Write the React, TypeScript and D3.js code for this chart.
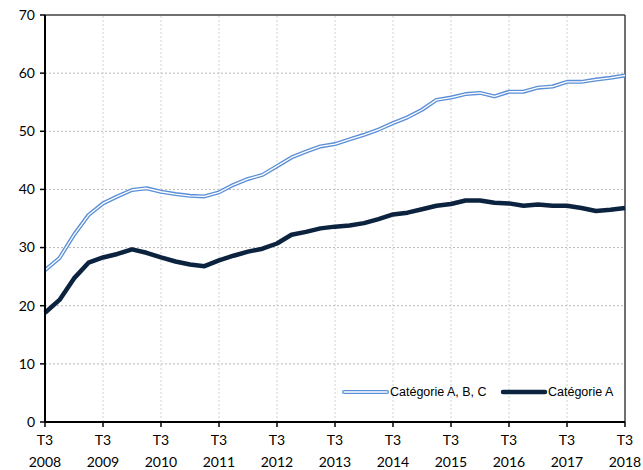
import React, { useEffect, useRef } from 'react';
import * as d3 from 'd3';

// quarterly, T3 2008 -> T3 2018
const yearLabels = ['2008', '2009', '2010', '2011', '2012', '2013', '2014', '2015', '2016', '2017', '2018'];
const yTicks = [0, 10, 20, 30, 40, 50, 60, 70];

const catABC = [
  26.1, 28.2, 32.2, 35.6, 37.6, 38.8, 39.9, 40.2, 39.6, 39.2,
  38.9, 38.8, 39.5, 40.8, 41.8, 42.5, 44.0, 45.5, 46.5, 47.4,
  47.8, 48.6, 49.4, 50.3, 51.4, 52.4, 53.7, 55.4, 55.8, 56.4,
  56.6, 56.0, 56.8, 56.8, 57.5, 57.7, 58.5, 58.5, 58.9, 59.2,
  59.6,
];
const catA = [
  18.8, 21.0, 24.7, 27.4, 28.3, 28.9, 29.7, 29.1, 28.3, 27.6,
  27.1, 26.8, 27.8, 28.6, 29.3, 29.8, 30.7, 32.2, 32.7, 33.3,
  33.6, 33.8, 34.2, 34.9, 35.7, 36.0, 36.6, 37.2, 37.5, 38.1,
  38.1, 37.7, 37.6, 37.2, 37.4, 37.2, 37.2, 36.8, 36.3, 36.5,
  36.8,
];

const W = 643;
const H = 470;
const M = { left: 45, right: 18, top: 15, bottom: 48 };

export default function App() {
  const ref = useRef<SVGSVGElement>(null);

  useEffect(() => {
    if (!ref.current) return;
    const svg = d3.select(ref.current);
    svg.selectAll('*').remove();

    const x = d3.scaleLinear().domain([0, catA.length - 1]).range([M.left, W - M.right]);
    const y = d3.scaleLinear().domain([0, 70]).range([H - M.bottom, M.top]);
    const axisFont = 'Lato, "Open Sans", sans-serif';

    // grid
    const grid = svg.append('g');
    yTicks.slice(1, -1).forEach(t => {
      grid.append('line')
        .attr('x1', x(0)).attr('x2', x(40))
        .attr('y1', y(t)).attr('y2', y(t))
        .attr('stroke', '#b8b8b8').attr('stroke-width', 1)
        .attr('stroke-dasharray', '2,2');
    });
    yearLabels.slice(1, -1).forEach((_, k) => {
      const xi = x((k + 1) * 4);
      grid.append('line')
        .attr('x1', xi).attr('x2', xi)
        .attr('y1', y(0)).attr('y2', y(70))
        .attr('stroke', '#d0d0d0').attr('stroke-width', 1)
        .attr('stroke-dasharray', '2,2');
    });

    // frame: top and right
    svg.append('line')
      .attr('x1', x(0)).attr('x2', x(40)).attr('y1', y(70)).attr('y2', y(70))
      .attr('stroke', '#404040').attr('stroke-width', 1.5);
    svg.append('line')
      .attr('x1', x(40)).attr('x2', x(40)).attr('y1', y(70)).attr('y2', y(0))
      .attr('stroke', '#404040').attr('stroke-width', 1.5);

    const line = d3.line<number>()
      .x((_, i) => x(i))
      .y(d => y(d));

    // Catégorie A, B, C : double line
    svg.append('path').datum(catABC)
      .attr('fill', 'none').attr('stroke', '#5b8fd8').attr('stroke-width', 4)
      .attr('stroke-linejoin', 'round').attr('d', line);
    svg.append('path').datum(catABC)
      .attr('fill', 'none').attr('stroke', '#fff').attr('stroke-width', 1.3)
      .attr('stroke-linejoin', 'round').attr('d', line);

    // Catégorie A
    svg.append('path').datum(catA)
      .attr('fill', 'none').attr('stroke', '#0c2340').attr('stroke-width', 4.5)
      .attr('stroke-linejoin', 'round').attr('d', line);

    // y axis
    svg.append('line')
      .attr('x1', x(0)).attr('x2', x(0)).attr('y1', y(70)).attr('y2', y(0))
      .attr('stroke', '#000').attr('stroke-width', 2);
    yTicks.forEach(t => {
      svg.append('line')
        .attr('x1', x(0) - 5).attr('x2', x(0)).attr('y1', y(t)).attr('y2', y(t))
        .attr('stroke', '#000').attr('stroke-width', 1.5);
      svg.append('text')
        .attr('x', x(0) - 10).attr('y', y(t)).attr('dy', '0.35em')
        .attr('text-anchor', 'end')
        .attr('font-family', axisFont).attr('font-size', 14).attr('fill', '#000')
        .text(t);
    });

    // x axis
    svg.append('line')
      .attr('x1', x(0)).attr('x2', x(40)).attr('y1', y(0)).attr('y2', y(0))
      .attr('stroke', '#000').attr('stroke-width', 2);
    yearLabels.forEach((yr, k) => {
      const xi = x(k * 4);
      svg.append('line')
        .attr('x1', xi).attr('x2', xi).attr('y1', y(0)).attr('y2', y(0) + 5)
        .attr('stroke', '#000').attr('stroke-width', 1.5);
      const t = svg.append('text')
        .attr('x', xi).attr('text-anchor', 'middle')
        .attr('font-family', axisFont).attr('font-size', 14).attr('fill', '#000');
      t.append('tspan').attr('x', xi).attr('y', y(0) + 23).text('T3');
      t.append('tspan').attr('x', xi).attr('y', y(0) + 45).text(yr);
    });

    // legend
    const lg = svg.append('g').attr('transform', `translate(344, ${y(0) - 30})`);
    lg.append('line').attr('x1', 0).attr('x2', 43)
      .attr('stroke', '#5b8fd8').attr('stroke-width', 4).attr('stroke-linecap', 'round');
    lg.append('line').attr('x1', 0).attr('x2', 43)
      .attr('stroke', '#fff').attr('stroke-width', 1.3).attr('stroke-linecap', 'round');
    lg.append('text').attr('x', 46).attr('dy', '0.35em')
      .attr('font-family', '"Liberation Sans", Arial, sans-serif').attr('font-size', 12.5)
      .attr('fill', '#000').text('Catégorie A, B, C');
    lg.append('line').attr('x1', 159).attr('x2', 201)
      .attr('stroke', '#0c2340').attr('stroke-width', 4.5).attr('stroke-linecap', 'round');
    lg.append('text').attr('x', 204).attr('dy', '0.35em')
      .attr('font-family', '"Liberation Sans", Arial, sans-serif').attr('font-size', 12.5)
      .attr('fill', '#000').text('Catégorie A');
  }, []);

  return (
    <svg
      ref={ref}
      width={W}
      height={H}
      style={{ position: 'absolute', left: 0, top: 0, background: '#fff' }}
    />
  );
}
